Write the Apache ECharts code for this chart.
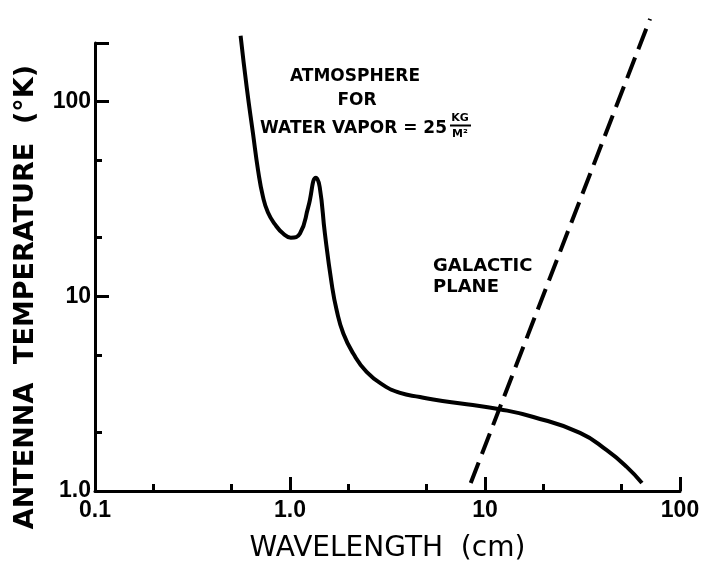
<!DOCTYPE html>
<html>
<head>
<meta charset="utf-8">
<title>Antenna temperature vs wavelength</title>
<script src="https://cdn.jsdelivr.net/npm/echarts@6/dist/echarts.min.js"></script>
<style>
  html, body { margin: 0; padding: 0; background: #fff; }
  #chart { width: 712px; height: 580px; }
</style>
</head>
<body>
<div id="chart"></div>
<script>
// wavelength (cm) / antenna temperature (K)
var atmWavelength = [0.558, 0.60, 0.646, 0.686, 0.726, 0.77, 0.838, 0.922, 1.01, 1.125, 1.24, 1.36, 1.42, 1.51, 1.636,
  1.735, 1.877, 2.11, 2.47, 3.01, 3.67, 4.64, 5.43, 8.05, 11.9, 17.7, 30.7, 42.1, 53.3, 63.8]
var atmTemp = [218, 118, 68.5, 44.3, 32.6, 27.0, 23.4, 21.0, 20.0, 21.0, 28.7, 40.6, 36.4, 21.0, 11.6,
  8.48, 6.44, 5.08, 4.09, 3.50, 3.19, 3.04, 2.95, 2.79, 2.63, 2.40, 1.99, 1.62, 1.33, 1.10]

var galWavelength = [8.45, 70.2]
var galTemp = [1.10, 266]

var xMajorTicks = [1, 10, 100]
var xMinorTicks = [0.2, 0.5, 2, 5, 20, 50]
var xTickLabels = [0.1, 1, 10, 100]
var yMajorTicks = [1, 10, 100, 200]
var yMinorTicks = [2, 5, 20, 50]
var yTickLabels = [1, 10, 100]

function fmt(v) {
  if (v === 1) return '1.0'
  return String(v)
}

function pairs(xs, ys) {
  return xs.map(function (x, i) { return [x, ys[i]] })
}

var chart = echarts.init(document.getElementById('chart'))
var ink = '#000'
var labelFont = {
  color: ink,
  fontFamily: 'Liberation Sans',
  fontWeight: 'bold',
  fontSize: 23
}

chart.setOption({
  backgroundColor: '#fff',
  animation: false,
  grid: { left: 95, right: 32, top: 43, bottom: 89 },
  xAxis: [
    {
      type: 'log',
      logBase: 10,
      min: 0.1,
      max: 100,
      position: 'bottom',
      name: 'WAVELENGTH  (cm)',
      nameLocation: 'middle',
      nameGap: 44,
      nameTextStyle: { color: ink, fontFamily: 'DejaVu Sans', fontSize: 28 },
      axisLine: { lineStyle: { color: ink, width: 3 } },
      axisTick: { inside: true, length: 14, lineStyle: { color: ink, width: 3 }, customValues: xMajorTicks },
      axisLabel: Object.assign({ margin: 8, formatter: fmt, customValues: xTickLabels }, labelFont),
      splitLine: { show: false },
      minorTick: { show: false }
    },
    {
      type: 'log',
      logBase: 10,
      min: 0.1,
      max: 100,
      position: 'bottom',
      offset: 0,
      axisLine: { show: false },
      axisTick: { inside: true, length: 7, lineStyle: { color: ink, width: 3 }, customValues: xMinorTicks },
      axisLabel: { show: false },
      splitLine: { show: false }
    }
  ],
  yAxis: [
    {
      type: 'log',
      logBase: 10,
      min: 1,
      max: 200,
      position: 'left',
      name: 'ANTENNA  TEMPERATURE  (°K)',
      nameLocation: 'middle',
      nameGap: 56,
      nameRotate: 90,
      nameTextStyle: {
        color: ink, fontFamily: 'DejaVu Sans', fontWeight: 'bold', fontSize: 27,
        padding: [0, 60, 0, 0]
      },
      axisLine: { lineStyle: { color: ink, width: 3 } },
      axisTick: { inside: true, length: 14, lineStyle: { color: ink, width: 3 }, customValues: yMajorTicks },
      axisLabel: Object.assign({ margin: 4, formatter: fmt, customValues: yTickLabels }, labelFont),
      splitLine: { show: false },
      minorTick: { show: false }
    },
    {
      type: 'log',
      logBase: 10,
      min: 1,
      max: 200,
      position: 'left',
      offset: 0,
      axisLine: { show: false },
      axisTick: { inside: true, length: 7, lineStyle: { color: ink, width: 3 }, customValues: yMinorTicks },
      axisLabel: { show: false },
      splitLine: { show: false }
    }
  ],
  series: [
    {
      name: 'Atmosphere',
      type: 'line',
      smooth: 0.5,
      symbol: 'none',
      clip: false,
      lineStyle: { color: ink, width: 4 },
      data: pairs(atmWavelength, atmTemp)
    },
    {
      name: 'Galactic plane',
      type: 'line',
      symbol: 'none',
      clip: false,
      lineStyle: { color: ink, width: 4, type: [22, 9] },
      data: pairs(galWavelength, galTemp)
    }
  ],
  graphic: [
    {
      type: 'text', style: {
        text: 'ATMOSPHERE', x: 355, y: 77, align: 'center', verticalAlign: 'middle',
        fill: ink, font: 'bold 17px "DejaVu Sans"'
      }
    },
    {
      type: 'text', style: {
        text: 'FOR', x: 357, y: 101, align: 'center', verticalAlign: 'middle',
        fill: ink, font: 'bold 17px "DejaVu Sans"'
      }
    },
    {
      type: 'text', style: {
        text: 'WATER VAPOR = 25', x: 447, y: 129, align: 'right', verticalAlign: 'middle',
        fill: ink, font: 'bold 17px "DejaVu Sans"'
      }
    },
    {
      type: 'text', style: {
        text: 'KG', x: 460, y: 118, align: 'center', verticalAlign: 'middle',
        fill: ink, font: 'bold 11px "DejaVu Sans"'
      }
    },
    {
      type: 'line', shape: { x1: 450, y1: 125.5, x2: 471, y2: 125.5 },
      style: { stroke: ink, lineWidth: 2 }
    },
    {
      type: 'text', style: {
        text: 'M²', x: 460, y: 134, align: 'center', verticalAlign: 'middle',
        fill: ink, font: 'bold 11px "DejaVu Sans"'
      }
    },
    {
      type: 'text', style: {
        text: 'GALACTIC\nPLANE', x: 433, y: 256, align: 'left', verticalAlign: 'top',
        lineHeight: 21, fill: ink, font: 'bold 18px "DejaVu Sans"'
      }
    }
  ]
})
</script>
</body>
</html>
